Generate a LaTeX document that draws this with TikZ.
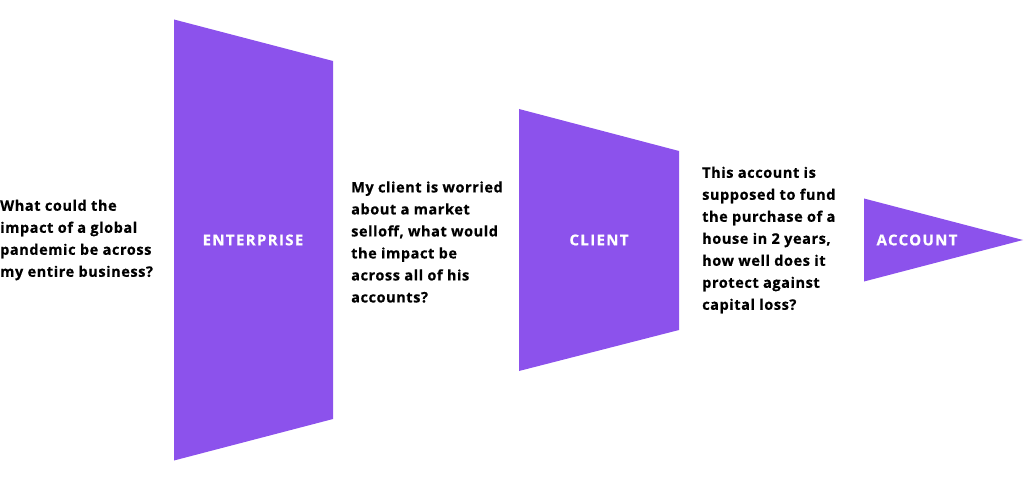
\documentclass[tikz,border=0pt]{standalone}
\usepackage{fontspec}
\setmainfont{Open Sans}
\newfontfamily\questionfont[LetterSpace=4,BoldFeatures={FakeBold=0.6}]{Open Sans}
\newfontfamily\labelfont[LetterSpace=9,BoldFeatures={FakeBold=0.6}]{Open Sans}
\definecolor{funnel}{HTML}{8C52EC}
\tikzset{
  stage/.style={fill=funnel,draw=none},
  stagelabel/.style={text=white,font=\labelfont\fontsize{15}{16}\selectfont\bfseries,inner sep=0pt},
  question/.style={anchor=west,align=left,inner sep=0pt,font=\questionfont\fontsize{14.5}{22}\selectfont\bfseries}
}
\begin{document}
\begin{tikzpicture}[x=1pt,y=-1pt,line join=round]
					\useasboundingbox (0,0) rectangle (1024,486);
					\fill [stage] (174,19.5)--(333,61)--(333,419)--(174,460.5)--cycle;
					\fill [stage] (519,109)--(679,151)--(679,330)--(519,371)--cycle;
					\fill [stage] (864,198.5)--(1023,240)--(864,281.5)--cycle;
					\node [stagelabel] (enterprise) at (253,240) {ENTERPRISE};
					\node [stagelabel] (client) at (599,240) {CLIENT};
					\node [stagelabel] (account) at (917,240) {ACCOUNT};
					\node [question] (qenterprise) at (0,240) {What could the\\impact of a global\\pandemic be across\\my entire business?};
					\node [question] (qclient) at (351,242) {My client is worried\\about a market\\selloff, what would\\the impact be\\across all of his\\accounts?};
					\node [question] (qaccount) at (702,240) {This account is\\supposed to fund\\the purchase of a\\house in 2 years,\\how well does it\\protect against\\capital loss?};
				\end{tikzpicture}
\end{document}
